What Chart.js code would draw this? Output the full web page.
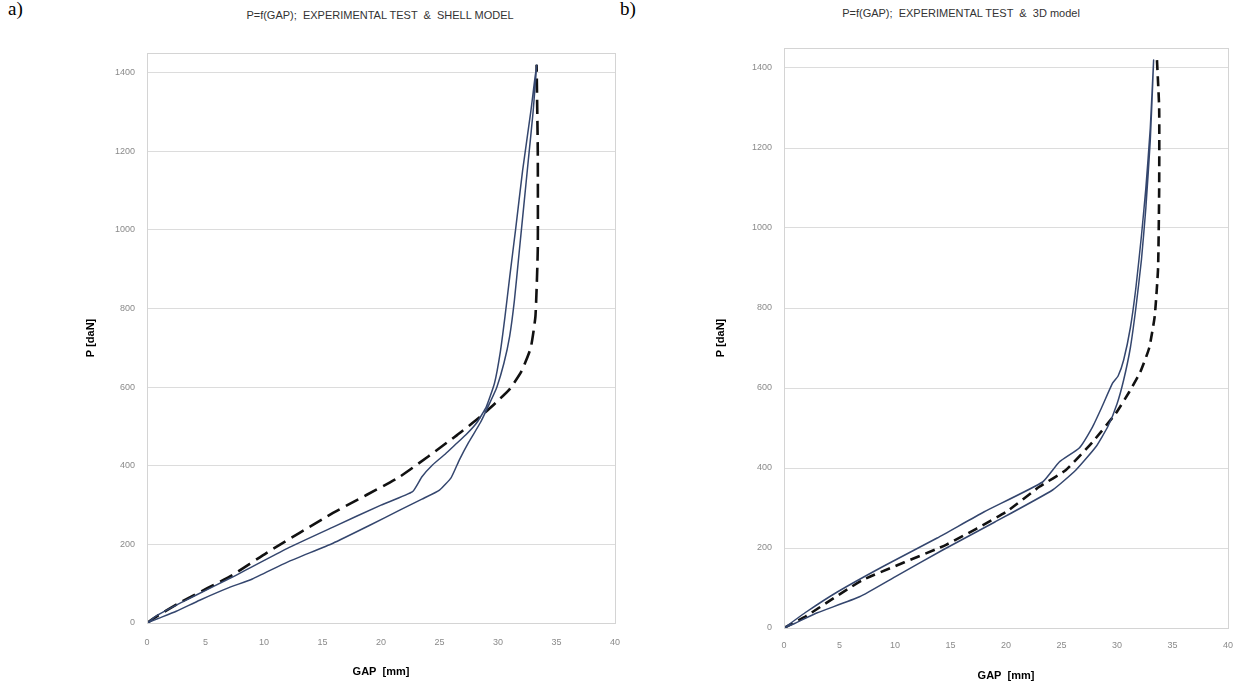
<!DOCTYPE html>
<html>
<head>
<meta charset="utf-8">
<script src="https://cdn.jsdelivr.net/npm/chart.js@4.4.1/dist/chart.umd.min.js"></script>
<style>
  html, body { margin: 0; padding: 0; background: #fff; }
  body { width: 1237px; height: 684px; position: relative; overflow: hidden; }
  .panel { position: absolute; top: 0; height: 684px; }
  .tag { position: absolute; top: -2px; font: 19px "Liberation Serif", "DejaVu Serif", serif; color: #000; }
  .ttl { position: absolute; font: 11px "Liberation Sans", Arial, sans-serif; color: #333; white-space: pre; transform: translateX(-50%); }
</style>
</head>
<body>
<div class="tag" style="left:8px">a)</div>
<div class="tag" style="left:620px">b)</div>
<div class="ttl" style="left:380px; top:9px">P=f(GAP);  EXPERIMENTAL TEST  &amp;  SHELL MODEL</div>
<div class="ttl" style="left:961px; top:7px">P=f(GAP);  EXPERIMENTAL TEST  &amp;  3D model</div>
<div class="panel" style="left:0; width:634px"><canvas id="chartA"></canvas></div>
<div class="panel" style="left:620px; width:625px"><canvas id="chartB"></canvas></div>
<script>
// (a) experimental test: loop going up the lower branch and back down the upper one
var expAGap = [0, 1, 2.5, 4.5, 7, 9, 12, 15.9, 19, 21.6, 23.5, 25, 26, 26.7, 27.5, 28.5, 29.3, 29.9, 30.5, 31.0, 31.4, 31.8, 32.2, 32.6, 33.0, 33.3,
               32.8, 32.1, 31.5, 31.0, 30.6, 30.2, 29.7, 29.0, 28.2, 27.3, 26.5, 25.5, 24.4, 23.5, 22.7, 20, 15.9, 12, 7.3, 4, 2, 0.8, 0];
var expAP   = [0, 12, 30, 58, 90, 112, 155, 203, 248, 287, 315, 338, 370, 415, 460, 510, 560, 600, 660, 730, 820, 940, 1060, 1180, 1300, 1420,
               1300, 1150, 1000, 880, 780, 690, 610, 550, 510, 480, 458, 430, 402, 372, 334, 300, 244, 190, 117, 68, 38, 18, 0];
// (a) shell model
var shellGap = [0, 1, 3, 7.3, 10.2, 15.9, 21.6, 26.5, 28.5, 29.8, 31.0, 32.0, 32.8, 33.2, 33.4, 33.4, 33.3];
var shellP   = [0, 20, 55, 122, 178, 280, 372, 478, 525, 560, 595, 640, 700, 780, 950, 1200, 1420];

// (b) experimental test
var expBGap = [0, 1, 3, 6.8, 10, 14.3, 19, 24.2, 26.3, 28.1, 29.2, 30.0, 30.6, 31.2, 31.7, 32.2, 32.6, 33.0, 33.3,
               33.0, 32.6, 32.2, 31.7, 31.2, 30.6, 30.1, 29.6, 28.6, 27.8, 26.6, 24.8, 23.3, 18, 13.8, 9, 4.8, 2, 0];
var expBP   = [0, 12, 38, 78, 128, 195, 265, 345, 395, 453, 505, 560, 620, 700, 800, 920, 1050, 1220, 1420,
               1250, 1100, 980, 850, 750, 670, 630, 612, 550, 503, 450, 415, 365, 290, 225, 155, 90, 40, 0];
// (b) 3D model
var solidGap = [0, 2, 7.1, 14.6, 20, 23, 25.4, 27.8, 29.9, 31.1, 32.1, 32.9, 33.4, 33.7, 33.8, 33.8, 33.6];
var solidP   = [0, 30, 120, 208, 290, 353, 395, 465, 537, 590, 640, 700, 780, 900, 1100, 1300, 1420];

var X_TICKS = [0, 5, 10, 15, 20, 25, 30, 35, 40];
var Y_TICKS = [0, 200, 400, 600, 800, 1000, 1200, 1400];

function pts(xs, ys) {
  return xs.map(function (x, i) { return { x: x, y: ys[i] }; });
}

// light grey frame around the plot area, like the spreadsheet original
var frame = {
  id: "frame",
  afterDraw: function (c) {
    var a = c.chartArea, g = c.ctx;
    g.save();
    g.strokeStyle = "#d4d4d4";
    g.lineWidth = 1;
    g.strokeRect(Math.round(a.left) + 0.5, Math.round(a.top) + 0.5, Math.round(a.right - a.left), Math.round(a.bottom - a.top));
    g.restore();
  }
};

function makeChart(id, o) {
  var tickFont = { family: "'Liberation Sans', Arial, sans-serif", size: 9 };
  var axisFont = { family: "'Liberation Sans', Arial, sans-serif", size: 11, weight: "bold" };
  var plain = function (v) { return String(v); };
  return new Chart(document.getElementById(id), {
    type: "scatter",
    data: {
      datasets: [
        { data: pts(o.expGap, o.expP), showLine: true, borderColor: "#34466e", borderWidth: 1.5, pointRadius: 0, tension: 0.15 },
        { data: pts(o.modGap, o.modP), showLine: true, borderColor: "#111", borderWidth: 2.6, borderDash: o.dash, pointRadius: 0, tension: 0.15 }
      ]
    },
    options: {
      responsive: true,
      maintainAspectRatio: false,
      animation: false,
      layout: { padding: o.pad },
      plugins: { legend: { display: false }, tooltip: { enabled: false } },
      scales: {
        x: {
          type: "linear", min: 0, max: 40,
          afterBuildTicks: function (s) { s.ticks = X_TICKS.map(function (v) { return { value: v }; }); },
          afterFit: function (s) { s.height = o.xh; },
          grid: { display: false, drawTicks: false },
          border: { color: "#d4d4d4" },
          ticks: { color: "#8a8a8a", font: tickFont, padding: o.xtp, maxRotation: 0, callback: plain },
          title: { display: true, text: "GAP  [mm]", color: "#000", font: axisFont, padding: { top: 0, bottom: o.xtb } }
        },
        y: {
          type: "linear", min: 0, max: 1450,
          afterBuildTicks: function (s) { s.ticks = Y_TICKS.map(function (v) { return { value: v }; }); },
          afterFit: function (s) { s.width = o.yw; },
          grid: { color: "#dcdcdc", drawTicks: false },
          border: { color: "#d4d4d4" },
          ticks: { color: "#8a8a8a", font: tickFont, padding: 12, callback: plain },
          title: { display: true, text: "P [daN]", color: "#000", font: axisFont, padding: 0 }
        }
      }
    },
    plugins: [frame]
  });
}

makeChart("chartA", {
  expGap: expAGap, expP: expAP, modGap: shellGap, modP: shellP, dash: [14, 7],
  pad: { left: 84, right: 10, top: 53, bottom: 0 }, yw: 63, xh: 61, xtp: 14, xtb: 5
});
makeChart("chartB", {
  expGap: expBGap, expP: expBP, modGap: solidGap, modP: solidP, dash: [10, 6],
  pad: { left: 94, right: 10, top: 48, bottom: 0 }, yw: 70, xh: 56, xtp: 12, xtb: 1
});
</script>
</body>
</html>
